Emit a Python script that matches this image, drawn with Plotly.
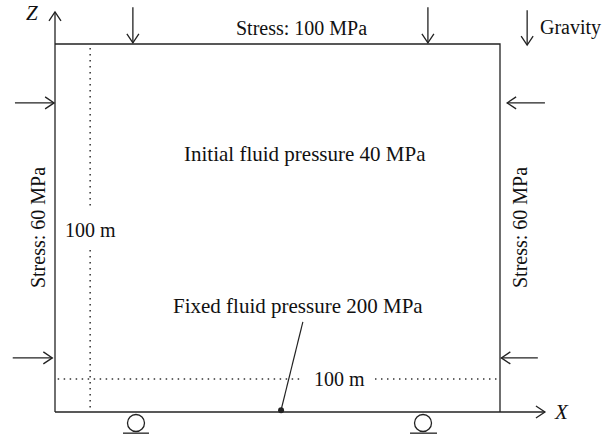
import plotly.graph_objects as go
import math

# ---- diagram content (model is 100 m x 100 m) ----
BOX_W = 100          # m, X extent
BOX_H = 100          # m, Z extent
DIM_LABELS = ["100 m", "100 m"]
TOP_STRESS = "Stress: 100 MPa"
SIDE_STRESS = "Stress: 60 MPa"
INIT_P = "Initial fluid pressure 40 MPa"
FIXED_P = "Fixed fluid pressure 200 MPa"
GRAVITY = "Gravity"
AXIS_NAMES = ["X", "Z"]

# pixel scale of the figure (px per metre)
SX, SZ = 4.45, 3.68
XR = [-55 / SX, (611 - 55) / SX]
ZR = [-(436 - 412) / SZ, BOX_H + 44 / SZ]

LC = "#222222"
LW = 1.3
FONT = "Liberation Serif"
FS = 20

fig = go.Figure()

def arrow_pts(x0, z0, x1, z1, hl=9, hw=6):
    # arrow from (x0,z0) to tip (x1,z1), open V head, computed in pixel space
    dx, dz = (x1 - x0) * SX, (z1 - z0) * SZ
    L = math.hypot(dx, dz)
    ux, uz = dx / L, dz / L
    px, pz = -uz, ux
    bx, bz = x1 * SX - ux * hl, z1 * SZ - uz * hl
    h1 = ((bx + px * hw) / SX, (bz + pz * hw) / SZ)
    h2 = ((bx - px * hw) / SX, (bz - pz * hw) / SZ)
    xs = [x0, x1, None, h1[0], x1, h2[0], None]
    zs = [z0, z1, None, h1[1], z1, h2[1], None]
    return xs, zs

arrows = [
    (0, 0, 0, 108.7),            # Z axis
    (0, 0, 110.1, 0),            # X axis
    (17.5, 110.0, 17.5, 100.3),  # top loads
    (83.8, 110.0, 83.8, 100.3),
    (106.1, 109.2, 106.1, 99.7), # gravity
    (-9.0, 84.0, -0.2, 84.0),    # left loads
    (-9.5, 14.7, -0.6, 14.7),
    (110.1, 84.0, 101.6, 84.0),  # right loads
    (108.5, 14.7, 100.3, 14.7),
]
ax, az = [], []
for a in arrows:
    xs, zs = arrow_pts(*a)
    ax += xs
    az += zs
fig.add_trace(go.Scatter(x=ax, y=az, mode="lines", line=dict(color=LC, width=LW),
                         hoverinfo="skip", showlegend=False))

# box top and right edges
fig.add_trace(go.Scatter(x=[0, BOX_W, BOX_W], y=[BOX_H, BOX_H, 0], mode="lines",
                         line=dict(color=LC, width=LW), hoverinfo="skip", showlegend=False))

# dotted dimension lines
dot = dict(color="#333333", width=1.5, dash="1.5px,4.5px")
fig.add_trace(go.Scatter(x=[7.9, 7.9, None, 7.9, 7.9], y=[98.9, 55.4, None, 44.0, 0.3],
                         mode="lines", line=dot, hoverinfo="skip", showlegend=False))
fig.add_trace(go.Scatter(x=[0.6, 55.7, None, 71.9, 99.3], y=[9.0, 9.0, None, 9.0, 9.0],
                         mode="lines", line=dot, hoverinfo="skip", showlegend=False))

# leader line to fixed pressure point
fig.add_trace(go.Scatter(x=[50.8, 55.7], y=[0.5, 24.5], mode="lines",
                         line=dict(color=LC, width=1.2), hoverinfo="skip", showlegend=False))
fig.add_trace(go.Scatter(x=[50.8], y=[0.5], mode="markers",
                         marker=dict(color=LC, size=6), hoverinfo="skip", showlegend=False))

# rollers
for cx0, cx1, ux0, ux1 in [(16.29, 20.11, 15.28, 21.12), (80.79, 84.61, 79.78, 85.84)]:
    fig.add_shape(type="circle", x0=cx0, x1=cx1, y0=-5.30, y1=-0.68,
                  line=dict(color=LC, width=LW))
    fig.add_shape(type="line", x0=ux0, x1=ux1, y0=-5.75, y1=-5.75,
                  line=dict(color=LC, width=LW))

def txt(x, y, s, size=FS, **kw):
    d = dict(x=x, y=y, text=s, showarrow=False,
             font=dict(family=FONT, size=size, color="#111111"))
    d.update(kw)
    fig.add_annotation(**d)

txt(55.3, 104.3, TOP_STRESS)
txt(108.5, 104.6, GRAVITY, xanchor="left")
txt(56.2, 70.1, INIT_P, size=21)
txt(54.6, 28.8, FIXED_P, size=21)
txt(7.9, 49.5, DIM_LABELS[0])
txt(64.0, 9.0, DIM_LABELS[1])
txt(-3.8, 50.0, SIDE_STRESS, textangle=-90)
txt(104.5, 50.0, SIDE_STRESS, textangle=-90)
txt(-5.2, 108.4, "<i>" + AXIS_NAMES[1] + "</i>", size=21)
txt(113.9, 0.0, "<i>" + AXIS_NAMES[0] + "</i>", size=21)

fig.update_layout(
    width=611, height=436,
    margin=dict(l=0, r=0, t=0, b=0),
    paper_bgcolor="white", plot_bgcolor="white",
    xaxis=dict(range=XR, visible=False, fixedrange=True),
    yaxis=dict(range=ZR, visible=False, fixedrange=True),
    showlegend=False,
)
fig.write_html("out.html")
